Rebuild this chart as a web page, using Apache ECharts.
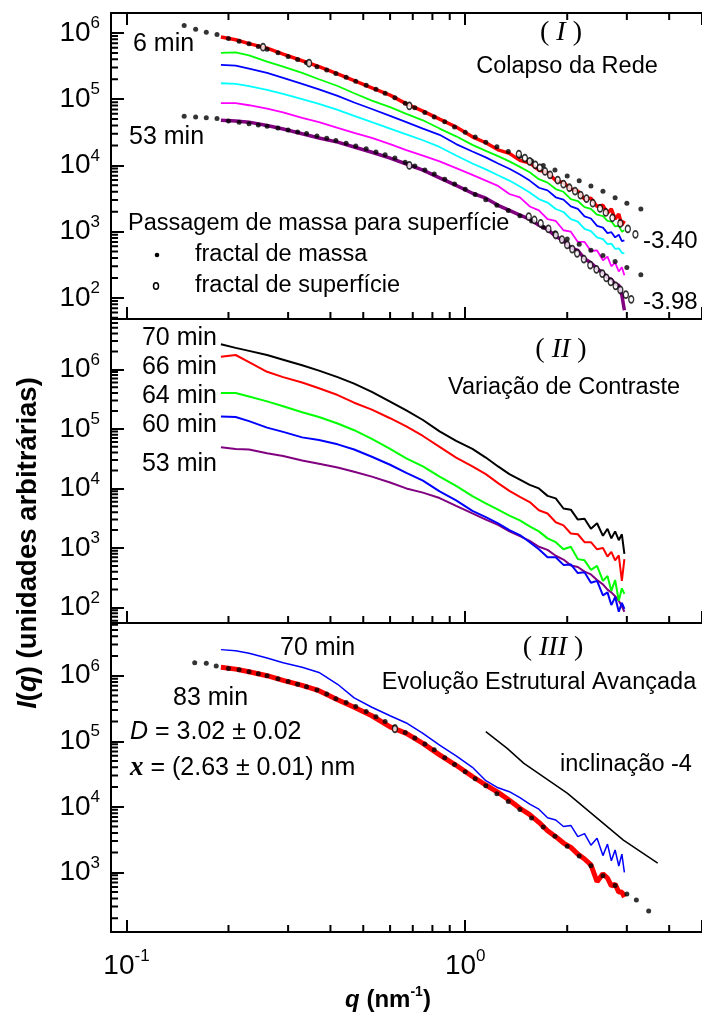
<!DOCTYPE html>
<html>
<head>
<meta charset="utf-8">
<title>I(q) x q</title>
<script src="https://cdn.jsdelivr.net/npm/echarts@6/dist/echarts.min.js"></script>
<style>
	html, body { margin: 0; padding: 0; background: #fff; }
	#chart_saxs { width: 702px; height: 1016px; }
</style>
</head>
<body>
<div id="chart_saxs"></div>
<script>
// q (nm^-1) das curvas medidas
var qCurva = [0.19, 0.21, 0.23, 0.26, 0.29, 0.33, 0.37, 0.42, 0.47, 0.53,
	0.6, 0.67, 0.75, 0.84, 0.94, 1.05, 1.15, 1.25, 1.35, 1.45,
	1.55, 1.65, 1.75, 1.85, 1.95, 2.05, 2.15, 2.25, 2.35, 2.45,
	2.55, 2.63, 2.7, 2.77, 2.84, 2.9, 2.95];

// (I) Colapso da Rede: 6 min ... 53 min
var colapso06 = [8.7e5, 7.9e5, 6.9e5, 5.9e5, 4.8e5, 3.8e5, 3.1e5, 2.4e5, 1.9e5, 1.48e5,
	1.15e5, 8.5e4, 6.6e4, 5.0e4, 3.8e4, 2.7e4, 2.2e4, 1.72e4, 1.52e4, 1.19e4,
	1.09e4, 8.5e3, 7.8e3, 5.9e3, 5.5e3, 4.4e3, 4.1e3, 3.1e3, 3.2e3, 2.4e3,
	2.5e3, 1.9e3, 2.2e3, 1.55e3, 1.85e3, 1.25e3, 1.45e3];
var colapsoVerde = [5.0e5, 5.1e5, 4.6e5, 3.7e5, 3.1e5, 2.5e5, 2.0e5, 1.58e5, 1.23e5, 9.5e4,
	7.6e4, 6.0e4, 4.8e4, 3.6e4, 2.75e4, 2.04e4, 1.66e4, 1.38e4, 1.15e4, 9.5e3,
	7.9e3, 6.2e3, 5.5e3, 4.4e3, 4.0e3, 3.1e3, 2.9e3, 2.35e3, 2.2e3, 1.8e3,
	1.72e3, 1.45e3, 1.42e3, 1.2e3, 1.22e3, 1.0e3, 1.05e3];
var colapsoAzul = [3.3e5, 3.2e5, 2.9e5, 2.5e5, 2.1e5, 1.7e5, 1.41e5, 1.12e5, 8.9e4, 7.1e4,
	5.6e4, 4.5e4, 3.6e4, 2.9e4, 2.1e4, 1.62e4, 1.32e4, 1.07e4, 8.9e3, 7.3e3,
	5.9e3, 4.6e3, 4.2e3, 3.3e3, 3.05e3, 2.4e3, 2.2e3, 1.7e3, 1.58e3, 1.22e3,
	1.15e3, 950, 980, 820, 900, 720, 740];
var colapsoCiano = [1.74e5, 1.70e5, 1.58e5, 1.38e5, 1.2e5, 1.0e5, 8.5e4, 6.9e4, 5.6e4, 4.5e4,
	3.6e4, 2.95e4, 2.4e4, 1.9e4, 1.41e4, 1.07e4, 8.7e3, 7.1e3, 5.9e3, 4.8e3,
	3.9e3, 3.1e3, 2.75e3, 2.2e3, 1.98e3, 1.55e3, 1.42e3, 1.1e3, 1.02e3, 820,
	770, 650, 660, 550, 560, 480, 470];
var colapsoMagenta = [8.7e4, 8.7e4, 8.1e4, 7.2e4, 6.3e4, 5.2e4, 4.5e4, 3.7e4, 3.1e4, 2.6e4,
	2.1e4, 1.7e4, 1.41e4, 1.15e4, 9.1e3, 7.2e3, 5.9e3, 4.9e3, 3.7e3, 3.3e3,
	2.4e3, 2.1e3, 1.55e3, 1.45e3, 1.05e3, 1.0e3, 700, 700, 510, 520,
	370, 420, 300, 340, 250, 290, 220];
var colapso53 = [4.8e4, 4.7e4, 4.5e4, 4.0e4, 3.55e4, 3.0e4, 2.6e4, 2.25e4, 1.9e4, 1.58e4,
	1.29e4, 1.05e4, 8.5e3, 6.5e3, 5.0e3, 3.8e3, 3.2e3, 2.5e3, 2.1e3, 1.78e3,
	1.55e3, 1.25e3, 1.08e3, 850, 730, 570, 520, 390, 340, 275,
	240, 200, 190, 160, 155, 110, 65];

// ajustes (I): fractal de massa (pontos) e de superficie (circulos)
var qMassa = [0.148, 0.16, 0.172, 0.185, 0.2, 0.215, 0.23, 0.245, 0.26, 0.28,
	0.3, 0.32, 0.34, 0.365, 0.39, 0.415, 0.445, 0.475, 0.51, 0.545,
	0.58, 0.62, 0.665, 0.71, 0.76, 0.81, 0.87, 0.93, 1.0, 1.07,
	1.15, 1.24, 1.34, 1.45, 1.57, 1.7, 1.84, 2.0, 2.17, 2.35,
	2.55, 2.77, 3.0, 3.3];
var massa06 = [1.29e6, 1.135e6, 1.02e6, 9.44e5, 8.22e5, 7.5e5, 6.84e5, 6.24e5, 5.69e5, 5.01e5,
	4.42e5, 3.98e5, 3.55e5, 3.09e5, 2.75e5, 2.45e5, 2.14e5, 1.86e5, 1.62e5, 1.41e5,
	1.23e5, 1.05e5, 8.71e4, 7.41e4, 6.31e4, 5.37e4, 4.57e4, 3.8e4, 3.16e4, 2.69e4,
	2.24e4, 1.91e4, 1.62e4, 1.38e4, 1.17e4, 1.0e4, 8.51e3, 6.92e3, 5.89e3, 4.9e3,
	4.07e3, 3.24e3, 2.69e3, 2.19e3];
var massa53 = [5.5e4, 5.37e4, 5.25e4, 5.13e4, 4.68e4, 4.47e4, 4.27e4, 4.07e4, 3.89e4, 3.67e4,
	3.43e4, 3.2e4, 3.02e4, 2.79e4, 2.57e4, 2.37e4, 2.16e4, 1.97e4, 1.78e4, 1.6e4,
	1.45e4, 1.29e4, 1.12e4, 9.77e3, 8.51e3, 7.41e3, 6.17e3, 5.25e3, 4.37e3, 3.63e3,
	3.02e3, 2.51e3, 2.09e3, 1.74e3, 1.45e3, 1.17e3, 955, 776, 646, 525,
	437, 355, 288, 224];
var qSup06 = [0.253, 0.346, 0.684, 1.44, 1.5, 1.55, 1.61, 1.66, 1.72, 1.78,
	1.875, 1.95, 2.03, 2.11, 2.19, 2.28, 2.38, 2.5, 2.6, 2.72, 2.87, 3.02, 3.18];
var sup06 = [6.1e5, 3.5e5, 7.9e4, 1.48e4, 1.29e4, 1.15e4, 1.02e4, 9.2e3, 8.1e3, 7.2e3,
	6.0e3, 5.2e3, 4.6e3, 4.1e3, 3.57e3, 3.16e3, 2.69e3, 2.24e3, 1.95e3, 1.62e3, 1.33e3, 1.1e3, 912];
var qSup53 = [0.684, 1.54, 1.6, 1.67, 1.76, 1.85, 1.93, 2.0, 2.07, 2.14,
	2.24, 2.34, 2.44, 2.54, 2.61, 2.69, 2.78, 2.87, 2.98, 3.09];
var sup53 = [1.0e4, 1.68e3, 1.5e3, 1.33e3, 1.1e3, 890, 760, 630, 545, 470,
	385, 313, 270, 233, 200, 174, 152, 132, 112, 95];

// (II) Variacao de Contraste
var contraste70 = [2.63e6, 2.29e6, 2.04e6, 1.74e6, 1.45e6, 1.17e6, 9.5e5, 7.4e5, 5.75e5, 4.17e5,
	2.88e5, 2.04e5, 1.41e5, 9.1e4, 6.3e4, 4.6e4, 3.3e4, 2.34e4, 1.74e4, 1.41e4,
	1.15e4, 1.0e4, 7.5e3, 6.8e3, 4.6e3, 4.4e3, 3.0e3, 3.1e3, 2.1e3, 2.6e3,
	1.6e3, 2.1e3, 1.45e3, 1.9e3, 1.35e3, 1.7e3, 800];
var contraste66 = [1.62e6, 1.74e6, 1.32e6, 9.1e5, 7.4e5, 6.0e5, 4.8e5, 3.7e5, 2.75e5, 2.1e5,
	1.51e5, 1.1e5, 7.6e4, 5.0e4, 3.3e4, 2.34e4, 1.74e4, 1.23e4, 9.1e3, 7.2e3,
	5.9e3, 4.3e3, 3.8e3, 2.7e3, 2.4e3, 1.75e3, 1.7e3, 1.25e3, 1.25e3, 950,
	1.0e3, 720, 860, 620, 750, 280, 650];
var contraste64 = [4.0e5, 4.0e5, 3.5e5, 2.9e5, 2.4e5, 1.9e5, 1.58e5, 1.23e5, 9.5e4, 6.8e4,
	4.6e4, 3.2e4, 2.34e4, 1.58e4, 1.1e4, 7.4e3, 5.6e3, 4.4e3, 3.5e3, 2.9e3,
	2.3e3, 1.9e3, 1.45e3, 1.25e3, 950, 1.05e3, 650, 620, 430, 500,
	280, 340, 190, 290, 130, 210, 170];
var contraste60 = [1.62e5, 1.58e5, 1.35e5, 1.05e5, 8.9e4, 7.2e4, 6.5e4, 5.5e4, 4.5e4, 3.4e4,
	2.5e4, 1.82e4, 1.35e4, 8.9e3, 6.3e3, 4.2e3, 3.3e3, 2.6e3, 2.0e3, 1.65e3,
	1.25e3, 950, 700, 700, 520, 530, 380, 390, 260, 280,
	160, 180, 110, 150, 85, 120, 95];
var contraste53 = [4.9e4, 4.6e4, 4.5e4, 3.9e4, 3.5e4, 2.95e4, 2.6e4, 2.25e4, 1.9e4, 1.58e4,
	1.26e4, 1.0e4, 8.5e3, 6.9e3, 5.1e3, 3.8e3, 3.0e3, 2.45e3, 1.9e3, 1.58e3,
	1.32e3, 1.05e3, 930, 740, 640, 510, 480, 400, 360, 290,
	245, 200, 180, 155, 130, 105, 85];

// (III) Evolucao Estrutural Avancada
var evolucao70 = [2.5e6, 2.4e6, 2.2e6, 1.86e6, 1.58e6, 1.35e6, 1.12e6, 7.4e5, 4.6e5, 3.3e5,
	2.45e5, 1.9e5, 1.32e5, 8.7e4, 6.0e4, 4.0e4, 2.5e4, 1.95e4, 1.7e4, 1.38e4,
	1.1e4, 9.2e3, 6.8e3, 6.3e3, 5.0e3, 5.2e3, 3.5e3, 3.9e3, 2.6e3, 3.3e3,
	1.8e3, 2.7e3, 1.5e3, 2.2e3, 1.25e3, 1.9e3, 1.0e3];
var evolucao83 = [1.35e6, 1.26e6, 1.15e6, 1.0e6, 8.5e5, 7.1e5, 5.9e5, 4.3e5, 3.3e5, 2.45e5,
	1.66e5, 1.32e5, 9.3e4, 6.2e4, 4.3e4, 2.9e4, 2.15e4, 1.66e4, 1.26e4, 9.5e3,
	7.6e3, 5.8e3, 4.3e3, 3.5e3, 2.8e3, 2.4e3, 1.9e3, 1.6e3, 1.3e3, 720,
	950, 820, 620, 660, 500, 500, 420];
var qMassa83 = [0.159, 0.172, 0.184, 0.2, 0.215, 0.23, 0.245, 0.26, 0.28, 0.3,
	0.32, 0.34, 0.365, 0.39, 0.415, 0.445, 0.475, 0.51, 0.545, 0.58,
	0.62, 0.665, 0.71, 0.76, 0.81, 0.87, 0.93, 1.0, 1.07, 1.15,
	1.24, 1.34, 1.45, 1.57, 1.7, 1.84, 2.0, 2.17, 2.35, 2.55,
	2.77, 3.0, 3.2, 3.48];
var massa83 = [1.58e6, 1.55e6, 1.41e6, 1.29e6, 1.23e6, 1.15e6, 1.07e6, 1.0e6, 9.02e5, 8.13e5,
	7.41e5, 6.76e5, 6.03e5, 5.25e5, 4.47e5, 3.89e5, 3.39e5, 2.85e5, 2.37e5, 2.0e5,
	1.66e5, 1.36e5, 1.12e5, 9.12e4, 7.41e4, 5.62e4, 4.42e4, 3.43e4, 2.69e4, 2.09e4,
	1.58e4, 1.2e4, 9.12e3, 6.76e3, 4.9e3, 3.55e3, 2.51e3, 1.78e3, 1.26e3, 891,
	631, 468, 380, 257];
var qSup83 = [0.62];
var sup83 = [1.55e5];
var qInclinacao = [1.15, 1.33, 1.49, 2.0, 2.93, 3.7];
var inclinacao = [1.4e5, 7.8e4, 4.6e4, 1.62e4, 3.1e3, 1.38e3];

// eixos
var qTicks = [0.1, 1];
var qMenores = [0.2, 0.3, 0.4, 0.5, 0.6, 0.7, 0.8, 0.9, 2, 3, 4];
var iTicks = [1e2, 1e3, 1e4, 1e5, 1e6];
var iTicks3 = [1e3, 1e4, 1e5, 1e6];
var Q_MIN = 0.09, Q_MAX = 5;
var faixaI = [[48, 2e6], [55, 7e6], [123, 6.37e6]];

var SANS = '"Liberation Sans", Arial, sans-serif';
var SERIF = '"Liberation Serif", "Times New Roman", serif';

// geometria dos tres paineis (px)
var paineis = [
	{ x: 111, y: 13, w: 591, h: 306 },
	{ x: 111, y: 319, w: 591, h: 304 },
	{ x: 111, y: 623, w: 591, h: 309 }
];

var log10 = function(v) { return Math.log(v) / Math.LN10; };

var toPairs = function(xs, ys) {
	var rtn = [];
	xs.forEach(function(x, i) {
		rtn.push([x, ys[i]]);
	});
	return rtn;
};

var expLabel = function(v) {
	var e = Math.round(log10(v));
	return '{b|10}{s|' + e + '}';
};

var minorTicks = function(lo, hi) {
	var rtn = [];
	for (var d = 1; d <= 6; d++) {
		for (var m = 2; m <= 9; m++) {
			var v = m * Math.pow(10, d);
			if (v > lo && v < hi) rtn.push(v);
		}
	}
	return rtn;
};

var labelRich = {
	b: { fontSize: 28, fontFamily: SANS, color: '#000', lineHeight: 36 },
	s: { fontSize: 17, fontFamily: SANS, color: '#000', verticalAlign: 'top' }
};

// ticks maiores: os do proprio eixo log (uma decada por intervalo)
var xAxisDef = function(grid, pos, labels) {
	return {
		type: 'log', gridIndex: grid, position: pos, min: Q_MIN, max: Q_MAX,
		axisLine: { show: true, onZero: false, lineStyle: { color: '#000', width: 2 } },
		axisTick: { show: true, inside: true, length: 12, lineStyle: { color: '#000', width: 2 } },
		axisLabel: labels ? { show: true, customValues: qTicks, formatter: expLabel,
			margin: 16, rich: labelRich } : { show: false },
		splitLine: { show: false },
		minorTick: { show: false }
	};
};

var yAxisDef = function(grid, majors) {
	return {
		type: 'log', gridIndex: grid, position: 'left', min: faixaI[grid][0], max: faixaI[grid][1],
		axisLine: { show: true, onZero: false, lineStyle: { color: '#000', width: 2 } },
		axisTick: { show: true, inside: true, length: 13, lineStyle: { color: '#000', width: 2 } },
		axisLabel: { show: true, customValues: majors, formatter: expLabel,
			margin: 11, rich: labelRich },
		splitLine: { show: false },
		minorTick: { show: false }
	};
};

var linha = function(name, xi, yi, xs, ys, color, width) {
	return {
		name: name, type: 'line', xAxisIndex: xi, yAxisIndex: yi,
		data: toPairs(xs, ys), showSymbol: false, symbol: 'none', z: 2,
		lineStyle: { color: color, width: width }, silent: true
	};
};

var pontos = function(name, xi, yi, xs, ys) {
	return {
		name: name, type: 'scatter', xAxisIndex: xi, yAxisIndex: yi, z: 5,
		data: toPairs(xs, ys), symbol: 'circle', symbolSize: 5,
		itemStyle: { color: '#000' }, silent: true
	};
};

var circulos = function(name, xi, yi, xs, ys) {
	return {
		name: name, type: 'scatter', xAxisIndex: xi, yAxisIndex: yi, z: 5,
		data: toPairs(xs, ys), symbol: 'circle', symbolSize: [5, 7],
		itemStyle: { color: '#fff', borderColor: '#000', borderWidth: 1.5 }, silent: true
	};
};

// tracinhos menores (2..9) como segmentos curtos, com pontos um pouco
// para dentro da area (a borda exata pode ficar fora da escala)
var fx = Math.pow(10, 7 * log10(Q_MAX / Q_MIN) / paineis[0].w);
var escalaY = function(i) {
	var pts = [];
	minorTicks(faixaI[i][0], faixaI[i][1]).forEach(function(v) {
		pts.push([Q_MIN * 1.002, v], [Q_MIN * fx, v], [Q_MIN * 1.002, '-']);
	});
	return pts;
};
var escalaX = function(i, topo) {
	var f = faixaI[i];
	var fy = Math.pow(10, 7 * log10(f[1] / f[0]) / paineis[i].h);
	var pts = [];
	qMenores.forEach(function(q) {
		if (topo) pts.push([q, f[1] / 1.004], [q, f[1] / fy], [q, '-']);
		else pts.push([q, f[0] * 1.004], [q, f[0] * fy], [q, '-']);
	});
	return pts;
};
var escala = function(xi, yi, pts) {
	return {
		type: 'line', xAxisIndex: xi, yAxisIndex: yi, data: pts, z: 6,
		showSymbol: false, symbol: 'none', connectNulls: false, silent: true,
		lineStyle: { color: '#000', width: 2 }
	};
};

var texto = function(x, y, text, align, size, rich) {
	var st = { text: text, fill: '#000', fontSize: size, fontFamily: SANS,
		align: align, verticalAlign: 'middle' };
	if (rich) st.rich = rich;
	return { type: 'text', x: x, y: y, silent: true, style: st };
};

var romano = {
	p: { fontSize: 28, fontFamily: SERIF, color: '#000' },
	i: { fontSize: 28, fontFamily: SERIF, fontStyle: 'italic', color: '#000' }
};

var notas = [
	// (I)
	texto(561, 33, '{p|( }{i|I}{p| )}', 'center', 28, romano),
	texto(567, 67, 'Colapso da Rede', 'center', 23.5),
	texto(133, 44, '6 min', 'left', 25),
	texto(129, 137, '53 min', 'left', 25),
	texto(128, 224, 'Passagem de massa para superfície', 'left', 23.5),
	texto(195, 255, 'fractal de massa', 'left', 23.5),
	texto(195, 286, 'fractal de superfície', 'left', 23.5),
	texto(643, 241, '-3.40', 'left', 24),
	texto(643, 302, '-3.98', 'left', 24),
	{ type: 'circle', shape: { cx: 157, cy: 255, r: 2.3 }, style: { fill: '#000' }, silent: true },
	{ type: 'ellipse', shape: { cx: 156, cy: 286, rx: 2.5, ry: 3.3 },
		style: { fill: '#fff', stroke: '#000', lineWidth: 1.5 }, silent: true },
	// (II)
	texto(561, 350, '{p|( }{i|II}{p| )}', 'center', 28, romano),
	texto(564, 388, 'Variação de Contraste', 'center', 23.5),
	texto(217, 338, '70 min', 'right', 25),
	texto(217, 367, '66 min', 'right', 25),
	texto(217, 396, '64 min', 'right', 25),
	texto(217, 425, '60 min', 'right', 25),
	texto(217, 464, '53 min', 'right', 25),
	// (III)
	texto(553, 648, '{p|( }{i|III}{p| )}', 'center', 28, romano),
	texto(539, 683, 'Evolução Estrutural Avançada', 'center', 23.5),
	texto(560, 765, 'inclinação -4', 'left', 23.5),
	texto(280, 648, '70 min', 'left', 25),
	texto(173, 698, '83 min', 'left', 25),
	texto(130, 732, '{i|D}{n| = 3.02 ± 0.02}', 'left', 25, {
		i: { fontSize: 25, fontFamily: SANS, fontStyle: 'italic', color: '#000' },
		n: { fontSize: 25, fontFamily: SANS, color: '#000' }
	}),
	texto(130, 768, '{x|x}{n| = (2.63 ± 0.01) nm}', 'left', 25, {
		x: { fontSize: 27, fontFamily: SERIF, fontStyle: 'italic', fontWeight: 'bold', color: '#000' },
		n: { fontSize: 25, fontFamily: SANS, color: '#000' }
	}),
	// titulos dos eixos
	{ type: 'text', x: 28, y: 543, rotation: Math.PI / 2, silent: true, style: {
		text: '{i|I}{b|(}{i|q}{b|) (unidades arbitrárias)}', fill: '#000',
		align: 'center', verticalAlign: 'middle',
		rich: {
			i: { fontSize: 27.5, fontFamily: SANS, fontWeight: 'bold', fontStyle: 'italic', color: '#000' },
			b: { fontSize: 27.5, fontFamily: SANS, fontWeight: 'bold', color: '#000' }
		}
	} },
	{ type: 'text', x: 388, y: 1000, silent: true, style: {
		text: '{i|q}{b| (nm}{s|-1}{b|)}', fill: '#000',
		align: 'center', verticalAlign: 'middle',
		rich: {
			i: { fontSize: 24, fontFamily: SANS, fontWeight: 'bold', fontStyle: 'italic', color: '#000', lineHeight: 30 },
			b: { fontSize: 24, fontFamily: SANS, fontWeight: 'bold', color: '#000', lineHeight: 30 },
			s: { fontSize: 14, fontFamily: SANS, fontWeight: 'bold', color: '#000', verticalAlign: 'top' }
		}
	} }
];

var option_saxs = {
	animation: false,
	backgroundColor: '#fff',
	grid: paineis.map(function(pn) {
		return { left: pn.x, right: 702 - pn.x - pn.w, top: pn.y, height: pn.h };
	}),
	xAxis: [
		xAxisDef(0, 'bottom', false),
		xAxisDef(0, 'top', false),
		xAxisDef(1, 'bottom', false),
		xAxisDef(2, 'bottom', true)
	],
	yAxis: [
		yAxisDef(0, iTicks),
		yAxisDef(1, iTicks),
		yAxisDef(2, iTicks3)
	],
	series: [
		linha('53 min', 0, 0, qCurva, colapso53, '#800080', 3.5),
		linha('magenta', 0, 0, qCurva, colapsoMagenta, '#ff00ff', 1.8),
		linha('ciano', 0, 0, qCurva, colapsoCiano, '#00ffff', 1.8),
		linha('azul', 0, 0, qCurva, colapsoAzul, '#0000ff', 1.8),
		linha('verde', 0, 0, qCurva, colapsoVerde, '#00ff00', 1.8),
		linha('6 min', 0, 0, qCurva, colapso06, '#ff0000', 3.5),
		pontos('fractal de massa', 0, 0, qMassa, massa06),
		pontos('fractal de massa', 0, 0, qMassa, massa53),
		circulos('fractal de superfície', 0, 0, qSup06, sup06),
		circulos('fractal de superfície', 0, 0, qSup53, sup53),

		linha('53 min', 2, 1, qCurva, contraste53, '#800080', 2),
		linha('60 min', 2, 1, qCurva, contraste60, '#0000ff', 2),
		linha('64 min', 2, 1, qCurva, contraste64, '#00ff00', 2),
		linha('66 min', 2, 1, qCurva, contraste66, '#ff0000', 2),
		linha('70 min', 2, 1, qCurva, contraste70, '#000000', 2),

		linha('83 min', 3, 2, qCurva, evolucao83, '#ff0000', 5),
		linha('70 min', 3, 2, qCurva, evolucao70, '#0000ff', 1.5),
		pontos('ajuste', 3, 2, qMassa83, massa83),
		circulos('ajuste', 3, 2, qSup83, sup83),
		linha('inclinação -4', 3, 2, qInclinacao, inclinacao, '#000000', 1.5),

		escala(0, 0, escalaY(0)),
		escala(2, 1, escalaY(1)),
		escala(3, 2, escalaY(2)),
		escala(0, 0, escalaX(0, false)),
		escala(1, 0, escalaX(0, true)),
		escala(2, 1, escalaX(1, false)),
		escala(3, 2, escalaX(2, false))
	],
	graphic: notas
};

var chart_saxs = echarts.init(document.getElementById('chart_saxs'));
chart_saxs.setOption(option_saxs, true);
</script>
</body>
</html>
